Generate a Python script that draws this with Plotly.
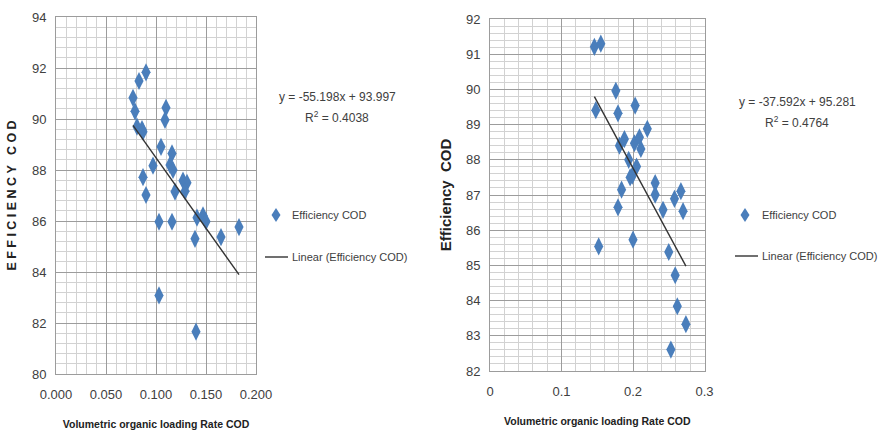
import plotly.graph_objects as go

# Reactor A: volumetric organic loading rate vs COD removal efficiency
olr_a = [0.090, 0.083, 0.077, 0.079, 0.081, 0.086, 0.087, 0.110, 0.109, 0.105,
         0.116, 0.114, 0.117, 0.097, 0.087, 0.090, 0.119, 0.127, 0.131, 0.129,
         0.103, 0.116, 0.141, 0.147, 0.150, 0.139, 0.165, 0.183, 0.103, 0.140]
eff_a = [91.83, 91.49, 90.83, 90.30, 89.70, 89.60, 89.50, 90.44, 89.96, 88.91,
         88.65, 88.20, 88.00, 88.17, 87.72, 87.02, 87.15, 87.58, 87.50, 87.17,
         85.97, 85.97, 86.13, 86.22, 85.98, 85.30, 85.37, 85.76, 83.08, 81.66]
slope_a, icpt_a, r2_a = -55.198, 93.997, 0.4038

# Reactor B
olr_b = [0.146, 0.155, 0.176, 0.148, 0.179, 0.203, 0.220, 0.188, 0.181, 0.202,
         0.209, 0.211, 0.194, 0.205, 0.196, 0.199, 0.231, 0.184, 0.231, 0.258,
         0.267, 0.179, 0.242, 0.270, 0.152, 0.200, 0.250, 0.259, 0.262, 0.274,
         0.253]
eff_b = [91.21, 91.30, 89.96, 89.41, 89.32, 89.54, 88.88, 88.59, 88.40, 88.47,
         88.64, 88.31, 88.00, 87.81, 87.50, 87.55, 87.34, 87.15, 87.01, 86.89,
         87.11, 86.65, 86.58, 86.54, 85.54, 85.73, 85.38, 84.72, 83.84, 83.33,
         82.61]
slope_b, icpt_b, r2_b = -37.592, 95.281, 0.4764

legend_labels = ["Efficiency COD", "Linear (Efficiency COD)"]

W, H = 884, 438
BLUE = "#4a7ebb"
LINE = "#333333"
TXT = "#404040"
FONT = "Liberation Sans, Arial, sans-serif"

fig = go.Figure()


def add_panel(fig, xs, ys, slope, icpt, xa, ya):
    fig.add_trace(go.Scatter(
        x=xs, y=ys, mode="markers", name=legend_labels[0],
        marker=dict(symbol="diamond-tall", size=13, color=BLUE,
                    line=dict(width=0)),
        xaxis=xa, yaxis=ya, showlegend=False))
    x0, x1 = min(xs), max(xs)
    fig.add_trace(go.Scatter(
        x=[x0, x1], y=[slope * x0 + icpt, slope * x1 + icpt],
        mode="lines", name=legend_labels[1],
        line=dict(color=LINE, width=1.4),
        xaxis=xa, yaxis=ya, showlegend=False))


add_panel(fig, olr_a, eff_a, slope_a, icpt_a, "x", "y")
add_panel(fig, olr_b, eff_b, slope_b, icpt_b, "x2", "y2")

MAJ = "#9c9c9c"
MIN = "#d2d2d2"
tickfont = dict(family=FONT, size=13, color=TXT)


def axis(domain, rng, dtick, minor, anchor, title, title_size, standoff,
         label_gap, fmt=None):
    d = dict(domain=domain, range=rng, dtick=dtick, showgrid=True,
             gridcolor=MAJ, gridwidth=1, zeroline=False,
             showline=True, linecolor=MAJ, mirror=True,
             ticks="", tickfont=tickfont, ticklabelstandoff=label_gap,
             minor=dict(dtick=minor, showgrid=True, gridcolor=MIN,
                        gridwidth=1),
             anchor=anchor, automargin=False,
             title=dict(text=title, standoff=standoff,
                        font=dict(family=FONT, size=title_size,
                                  color="#222222")))
    if fmt:
        d["tickformat"] = fmt
    return d


XT = "<b>Volumetric organic loading Rate COD</b>"

fig.update_layout(
    width=W, height=H,
    margin=dict(l=0, r=0, t=0, b=0),
    paper_bgcolor="white", plot_bgcolor="white",
    font=dict(family=FONT, color=TXT),
    showlegend=False,
    xaxis=axis([56 / W, 256 / W], [0, 0.2], 0.05, 0.01, "y", XT, 10.5, 20, 8,
               fmt=".3f"),
    yaxis=axis([64 / H, 421 / H], [80, 94], 2, 0.4, "x",
               "<b>E F F I C I E N C Y   C O D</b>", 12.5, 12, 6),
    xaxis2=axis([490 / W, 704.5 / W], [0, 0.3], 0.1, 0.02, "y2", XT, 10.5,
                20, 8),
    yaxis2=axis([67 / H, 419 / H], [82, 92], 1, 0.2, "x2",
                "<b>Efficiency  COD</b>", 15, 10, 6),
)

eq_font = dict(family=FONT, size=12, color=TXT)
key_font = dict(family=FONT, size=11, color=TXT)


def px(x):
    return x / W


def py(y):
    return 1 - y / H


# Legend key for each panel: (symbol centre x, text x, first row y, second row y)
for sx, tx, r1, r2 in [(276, 290, 215, 257), (745, 760, 215, 256)]:
    fig.add_shape(type="path", xref="paper", yref="paper",
                  xsizemode="pixel", ysizemode="pixel",
                  xanchor=px(sx), yanchor=py(r1),
                  path="M0,-7 L4.5,0 L0,7 L-4.5,0 Z",
                  fillcolor=BLUE, line=dict(width=0))
    fig.add_shape(type="line", xref="paper", yref="paper",
                  x0=px(tx - 25), x1=px(tx - 2), y0=py(r2), y1=py(r2),
                  line=dict(color=LINE, width=1.4))
    for label, ry in zip(legend_labels, [r1, r2]):
        fig.add_annotation(x=px(tx), y=py(ry), xref="paper", yref="paper",
                           text=label, showarrow=False, font=key_font,
                           xanchor="left", yanchor="middle")

# Trendline equations and coefficients of determination
for cx, cy, slope, icpt, r2 in [(337, 97, slope_a, icpt_a, r2_a),
                               (797, 102, slope_b, icpt_b, r2_b)]:
    fig.add_annotation(x=px(cx), y=py(cy), xref="paper", yref="paper",
                       text=f"y = {slope:.3f}x + {icpt:.3f}", showarrow=False,
                       font=eq_font, xanchor="center", yanchor="middle")
    fig.add_annotation(x=px(cx), y=py(cy + 20), xref="paper",
                       yref="paper", text=f"R<sup>2</sup> = {r2:.4f}",
                       showarrow=False, font=eq_font, xanchor="center",
                       yanchor="middle")

fig.write_html("out.html")
